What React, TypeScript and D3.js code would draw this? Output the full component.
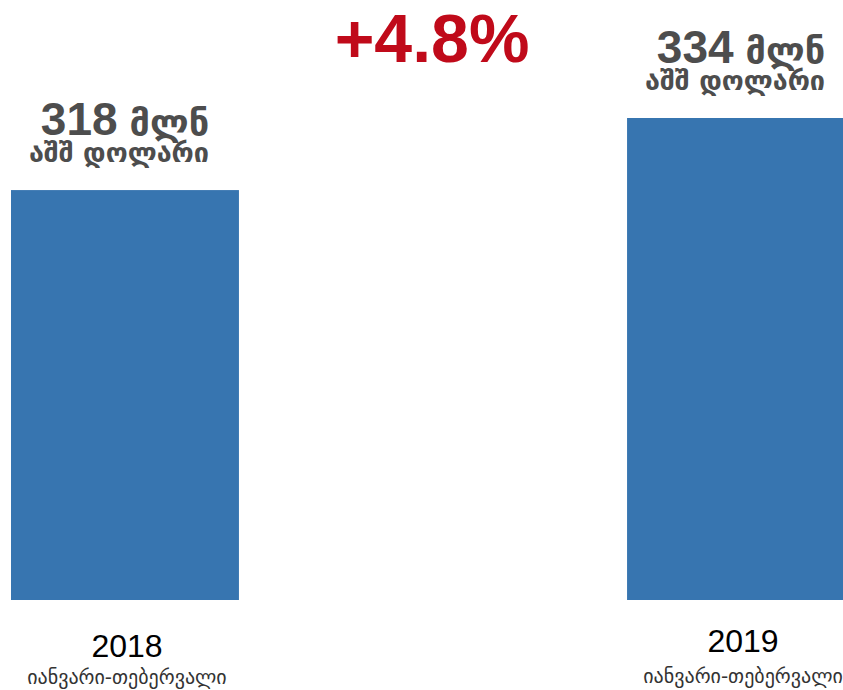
import React from "react";
import * as d3 from "d3";

const categories = ["2018", "2019"];
const values = [318, 334];
const periodLabels = ["იანვარი-თებერვალი", "იანვარი-თებერვალი"];
const unitLine1 = "მლნ";
const unitLine2 = "აშშ დოლარი";
const changeLabel = "+4.8%";

const W = 843;
const H = 690;

export default function App() {
  const x = d3.scaleBand<string>().domain(categories).range([11, 855]).paddingInner(0.63).paddingOuter(0);
  const y = d3.scaleLinear().domain([227, 334]).range([600, 118]);
  const font = "'Liberation Sans', Arial, 'DejaVu Sans', sans-serif";
  const geo = "'DejaVu Sans', sans-serif";
  const labelOffsets = [{ year: 657, period: 684 }, { year: 652, period: 683 }];
  return (
    <svg width={W} height={H} style={{ position: "absolute", left: 0, top: 0, background: "#fff" }}>
      {categories.map((c, i) => {
        const bx = x(c)!;
        const bw = x.bandwidth();
        const cx = bx + bw / 2;
        const top = y(values[i]);
        return (
          <g key={c}>
            <rect x={bx} y={top} width={bw} height={y.range()[0] - top} fill="#3775B0" />
            <text x={cx} y={top - 55} textAnchor="middle" fill="#4d4d4d" fontFamily={font} fontWeight="bold">
              <tspan fontSize={46}>{values[i]}</tspan>
              <tspan fontSize={36} fontFamily={geo} dx={12}>{unitLine1}</tspan>
            </text>
            <text x={cx - 6} y={top - 28} textAnchor="middle" fill="#4d4d4d" fontFamily={geo} fontWeight="bold" fontSize={27}>
              {unitLine2}
            </text>
            <text x={cx + 2} y={labelOffsets[i].year} textAnchor="middle" fill="#000" fontFamily={font} fontSize={32}>
              {c}
            </text>
            <text x={cx + 2} y={labelOffsets[i].period} textAnchor="middle" fill="#333" fontFamily={geo} fontSize={20}>
              {periodLabels[i]}
            </text>
          </g>
        );
      })}
      <text x={432} y={62} textAnchor="middle" fill="#C00A1A" fontFamily={font} fontWeight="bold" fontSize={68}>
        {changeLabel}
      </text>
    </svg>
  );
}
